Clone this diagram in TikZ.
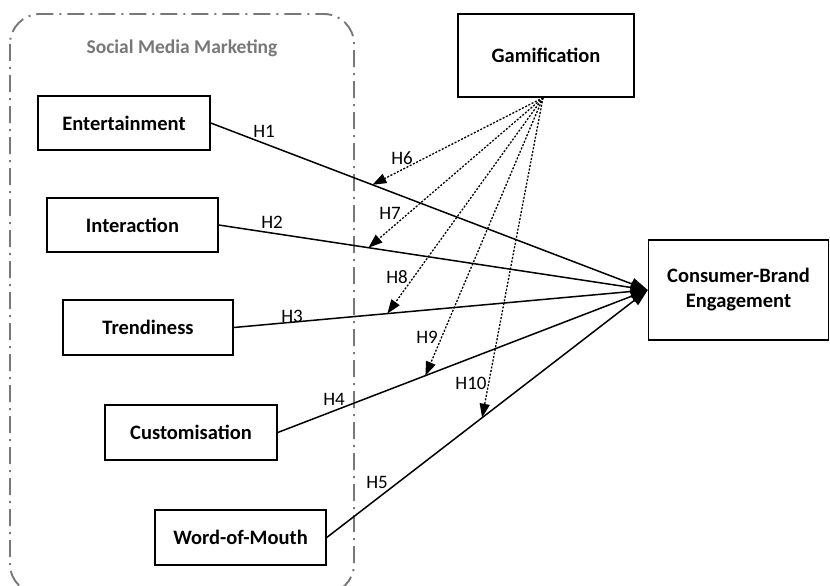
\documentclass[tikz,border=0pt]{standalone}
\usepackage{fontspec}
\setmainfont{Carlito}
\usetikzlibrary{arrows.meta}

\definecolor{smmgray}{RGB}{120,120,120}

\tikzset{
  box/.style={draw,line width=1.5pt,fill=white,font=\fontsize{20.5}{25}\selectfont\bfseries,align=center},
  path/.style={line width=1.5pt,-{Triangle[length=17pt,width=12pt]}},
  moder/.style={line width=1.3pt,dash pattern=on 2pt off 1.6pt,-{Triangle[length=14pt,width=10pt]}},
  hlab/.style={font=\fontsize{19}{22}\selectfont}
}

\begin{document}
\begin{tikzpicture}[x=1pt,y=-1pt]
  \useasboundingbox (0,0) rectangle (830,586);
  \clip (0,0) rectangle (830,586);
  % social media marketing frame
  \draw[smmgray,line width=1.9pt,rounded corners=30pt,
        dash pattern=on 17pt off 6pt on 2pt off 6pt] (10,14) rectangle (354,594);
  \node[smmgray,font=\fontsize{19.5}{22}\selectfont\bfseries] (smm) at (182,48) {Social Media Marketing};

  \node[box,minimum width=172pt,minimum height=54pt] (ent) at (124,123) {Entertainment};
  \node[box,minimum width=171pt,minimum height=54pt] (int) at (132.5,225) {Interaction};
  \node[box,minimum width=170pt,minimum height=55pt] (tre) at (148,327.5) {Trendiness};
  \node[box,minimum width=172pt,minimum height=55pt] (cus) at (191,432.5) {Customisation};
  \node[box,minimum width=171pt,minimum height=55pt] (wom) at (240.5,537.5) {Word-of-Mouth};
  \node[box,minimum width=176pt,minimum height=83pt] (gam) at (546,55.5) {Gamification};
  \node[box,minimum width=180pt,minimum height=100pt] (cbe) at (738.5,290) {Consumer-Brand\\Engagement};

  % direct paths H1-H5
  \draw[path] (ent.east) -- coordinate[pos=0.37] (t1) (cbe.west);
  \draw[path] (int.east) -- coordinate[pos=0.349] (t2) (cbe.west);
  \draw[path] (tre.east) -- coordinate[pos=0.371] (t3) (cbe.west);
  \draw[path] (cus.east) -- coordinate[pos=0.399] (t4) (cbe.west);
  \draw[path] (wom.east) -- coordinate[pos=0.484] (t5) (cbe.west);

  % moderating paths H6-H10
  \coordinate (g) at ([xshift=-3pt]gam.south);
  \draw[moder] (g) -- (t1);
  \draw[moder] (g) -- (t2);
  \draw[moder] (g) -- (t3);
  \draw[moder] (g) -- (t4);
  \draw[moder] (g) -- (t5);

  \node[hlab] (h1) at (264,131) {H1};
  \node[hlab] (h2) at (272,222) {H2};
  \node[hlab] (h3) at (292,316) {H3};
  \node[hlab] (h4) at (334,399) {H4};
  \node[hlab] (h5) at (377,482) {H5};
  \node[hlab] (h6) at (402,158) {H6};
  \node[hlab] (h7) at (390,213) {H7};
  \node[hlab] (h8) at (397,277) {H8};
  \node[hlab] (h9) at (427,337) {H9};
  \node[hlab] (h10) at (471,383) {H10};
\end{tikzpicture}
\end{document}
